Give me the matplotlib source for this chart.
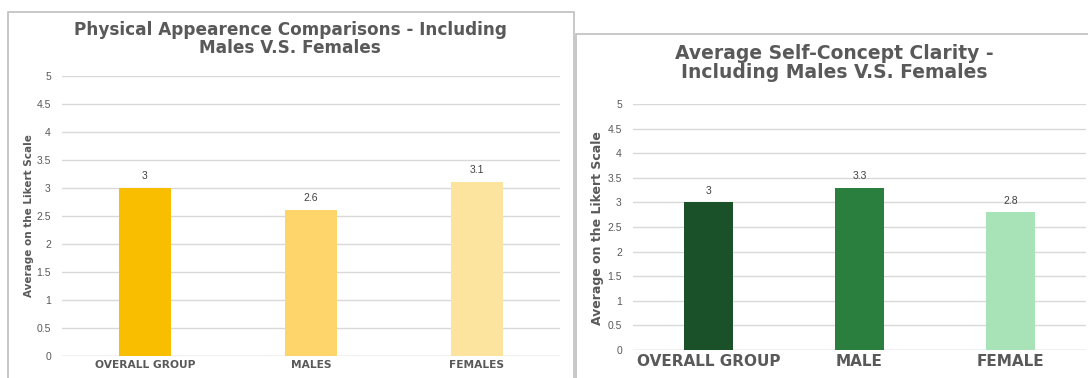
import matplotlib.pyplot as plt
from matplotlib.patches import Rectangle

# Left chart data
phys_groups = ['OVERALL GROUP', 'MALES', 'FEMALES']
phys_values = [3, 2.6, 3.1]
phys_colors = ['#F9BE00', '#FDD56A', '#FCE49F']

# Right chart data
scc_groups = ['OVERALL GROUP', 'MALE', 'FEMALE']
scc_values = [3, 3.3, 2.8]
scc_colors = ['#1B5129', '#2A7F3F', '#A8E3B8']

yticks = [0, 0.5, 1, 1.5, 2, 2.5, 3, 3.5, 4, 4.5, 5]
ytick_labels = ['0', '0.5', '1', '1.5', '2', '2.5', '3', '3.5', '4', '4.5', '5']

W, H = 1088, 378
TITLE_GRAY = '#595959'
TICK_GRAY = '#595959'
GRID = '#D9D9D9'
BOLD_FONT = 'DejaVu Sans'
TICK_FONT = 'Liberation Sans'

fig = plt.figure(figsize=(W / 100, H / 100), dpi=100)


def px_axes(x0, y0, x1, y1):
    # pixel box (top-left origin) -> figure fraction
    return fig.add_axes([x0 / W, (H - y1) / H, (x1 - x0) / W, (y1 - y0) / H])


def panel_border(x0, y0, x1, y1):
    fig.patches.append(Rectangle((x0 / W, (H - y1) / H), (x1 - x0) / W, (y1 - y0) / H,
                                 transform=fig.transFigure, fill=False,
                                 edgecolor='#BFBFBF', linewidth=1.2))


def bar_chart(ax, groups, values, colors, width, tick_fs, cat_fs, val_fs):
    x = range(len(groups))
    bars = ax.bar(x, values, width=width, color=colors, zorder=3)
    ax.set_xlim(-0.5, len(groups) - 0.5)
    ax.set_ylim(0, 5)
    ax.set_yticks(yticks)
    ax.set_yticklabels(ytick_labels, fontsize=tick_fs, color=TICK_GRAY, family=TICK_FONT)
    ax.set_xticks(list(x))
    ax.set_xticklabels(groups, fontsize=cat_fs, fontweight='bold',
                       color=TITLE_GRAY, family=BOLD_FONT)
    ax.tick_params(axis='x', length=0, pad=3)
    ax.tick_params(axis='y', length=0, pad=8)
    ax.grid(axis='y', color=GRID, linewidth=1, zorder=0)
    for s in ax.spines.values():
        s.set_visible(False)
    ax.axhline(0, color=GRID, linewidth=1, zorder=2)
    for b, v in zip(bars, values):
        ax.text(b.get_x() + b.get_width() / 2, v + 0.13, f'{v:g}',
                ha='center', va='bottom', fontsize=val_fs, color='#404040',
                family=TICK_FONT)


# Left panel
panel_border(8, 12, 574, 390)
ax1 = px_axes(62, 76, 560, 356)
bar_chart(ax1, phys_groups, phys_values, phys_colors, 0.31, 7.5, 7.7, 7.5)
fig.text(290 / W, (H - 39) / H, 'Physical Appearence Comparisons - Including\nMales V.S. Females',
         ha='center', va='center', fontsize=12.2, fontweight='bold',
         color=TITLE_GRAY, family=BOLD_FONT, linespacing=1.0)
fig.text(29 / W, (H - 216) / H, 'Average on the Likert Scale', rotation=90,
         ha='center', va='center', fontsize=7.5, fontweight='bold',
         color=TITLE_GRAY, family=BOLD_FONT)

# Right panel
panel_border(576, 34, 1100, 390)
ax2 = px_axes(633, 104, 1086, 350)
bar_chart(ax2, scc_groups, scc_values, scc_colors, 0.32, 7.5, 11, 7.5)
fig.text(834 / W, (H - 63) / H, 'Average Self-Concept Clarity -\nIncluding Males V.S. Females',
         ha='center', va='center', fontsize=13.5, fontweight='bold',
         color=TITLE_GRAY, family=BOLD_FONT, linespacing=0.95)
fig.text(597 / W, (H - 228) / H, 'Average on the Likert Scale', rotation=90,
         ha='center', va='center', fontsize=9, fontweight='bold',
         color=TITLE_GRAY, family=BOLD_FONT)

fig.savefig('out.png', dpi=100)
